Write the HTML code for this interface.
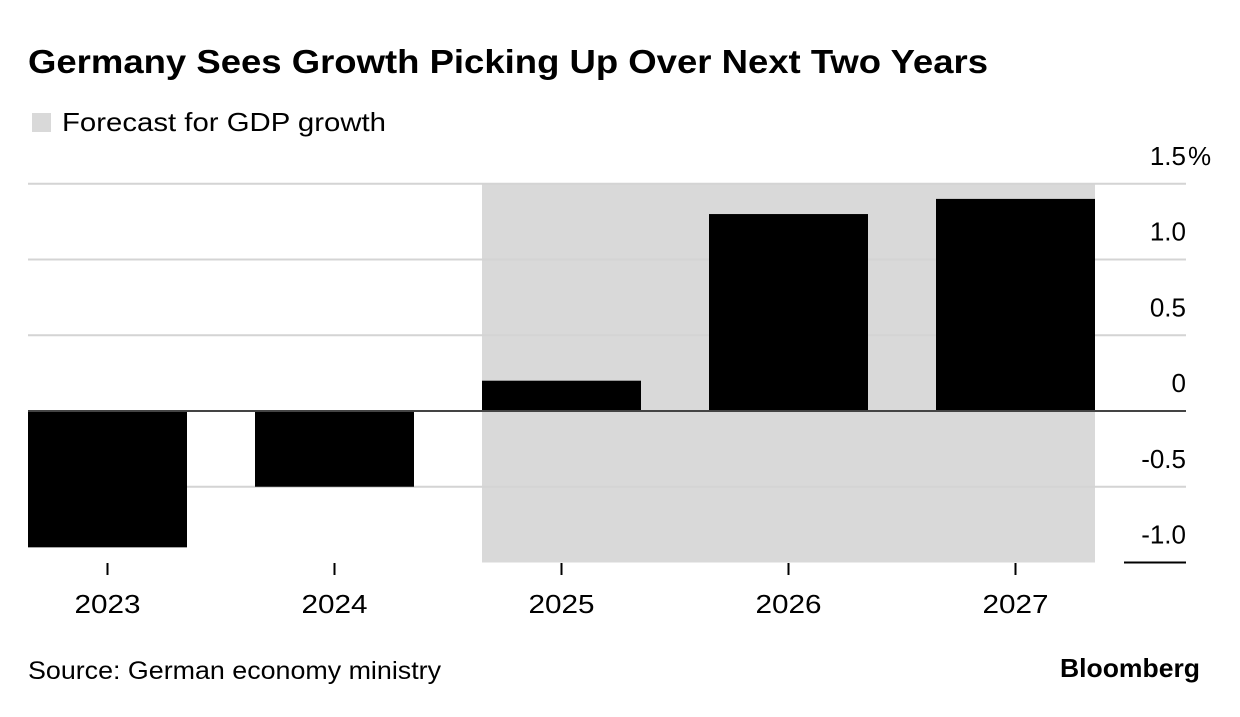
<!DOCTYPE html>
<html><head><meta charset="utf-8"><style>
body{margin:0;background:#fff;font-family:"Liberation Sans",sans-serif;}
svg text{font-family:"Liberation Sans",sans-serif;}
</style></head><body>
<svg width="1240" height="712">
<text x="28" y="73" font-size="33" font-weight="bold" fill="#000" textLength="960" lengthAdjust="spacingAndGlyphs">Germany Sees Growth Picking Up Over Next Two Years</text>
<rect x="32" y="113" width="19" height="19" fill="#d9d9d9"/>
<text x="62" y="131" font-size="26" fill="#000" textLength="324" lengthAdjust="spacingAndGlyphs">Forecast for GDP growth</text>
<g id="plot"></g>
<text x="28" y="679" font-size="25" fill="#000" textLength="413" lengthAdjust="spacingAndGlyphs">Source: German economy ministry</text>
<text x="1060" y="677" font-size="26" font-weight="bold" fill="#000" textLength="140" lengthAdjust="spacingAndGlyphs">Bloomberg</text>
</svg>
<script>
const years=["2023","2024","2025","2026","2027"];
const growth=[-0.9,-0.5,0.2,1.3,1.4];
const forecast=[false,false,true,true,true];
const yTicks=[1.5,1.0,0.5,0,-0.5,-1.0];
const yTickLabels=["1.5","1.0","0.5","0","-0.5","-1.0"];
const NS="http://www.w3.org/2000/svg";
const g=document.getElementById('plot');
const y0=411,unit=151.5;
const y=v=>y0-v*unit;
const bandL=28,band=227,barW=159;
const x=i=>bandL+i*band;
function mk(t,a){const e=document.createElementNS(NS,t);for(const k in a)e.setAttribute(k,a[k]);g.appendChild(e);return e;}
const fi=forecast.map((f,i)=>f?i:-1).filter(i=>i>=0);
if(fi.length){const s=mk('rect',{x:x(fi[0]),y:y(1.5),width:x(fi[fi.length-1])+barW-x(fi[0]),height:y(-1.0)-y(1.5),fill:'#d9d9d9'});

}
yTicks.forEach((t,i)=>{
 if(t!==0&&t!==-1.0){const l=mk('line',{x1:28,x2:1186,y1:y(t),y2:y(t),stroke:'#d4d4d4','stroke-width':2});
 
 }
 const tx=mk('text',{x:1186,y:y(t)-19,'font-size':26,'text-anchor':'end',fill:'#000'});
 tx.textContent=yTickLabels[i];
 
 
 if(i===0){const p=mk('text',{x:1188,y:y(t)-19,'font-size':26,fill:'#000'});
 p.textContent='%';
 
 }
});
const bl=mk('line',{x1:1124,x2:1186,y1:y(-1.0),y2:y(-1.0),stroke:'#000','stroke-width':2});


years.forEach((yr,i)=>{
 const v=growth[i];
 const r=mk('rect',{x:x(i),y:Math.min(y(v),y0),width:barW,height:Math.abs(y(v)-y0),fill:'#000'});
 
 
 const cx=x(i)+barW/2;
 const tk=mk('line',{x1:cx,x2:cx,y1:563,y2:575,stroke:'#000','stroke-width':2});
 
 
 const lb=mk('text',{x:cx-33,y:613,'font-size':26,fill:'#000',textLength:66,lengthAdjust:'spacingAndGlyphs'});
 lb.textContent=yr;
 
 
});
const z=mk('line',{x1:28,x2:1186,y1:y0,y2:y0,stroke:'#444','stroke-width':2});


</script>
</body></html>
